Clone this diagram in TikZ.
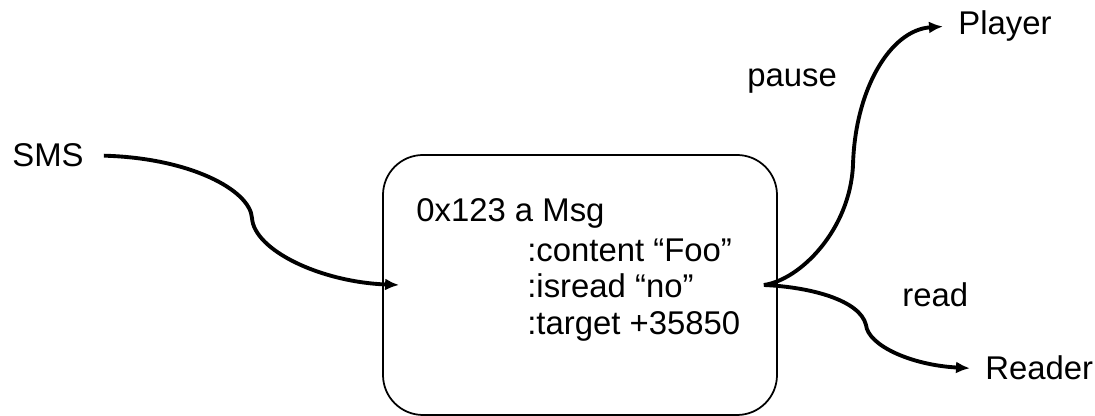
\documentclass[tikz,border=0pt]{standalone}
\usepackage{fontspec}
\setmainfont{Liberation Sans}
\usetikzlibrary{arrows.meta}
\tikzset{
  lbl/.style={inner sep=0, anchor=base west, font=\fontsize{18.7}{21}\selectfont},
  flow/.style={line width=2.2pt, -{Latex[length=0.28cm, width=0.24cm]}}
}
\begin{document}
\begin{tikzpicture}
  \useasboundingbox (0,0) rectangle (21.9,8.32);
  \node[draw, line width=1pt, rounded corners=0.8cm, minimum width=7.88cm, minimum height=5.2cm] (msg) at (11.6,2.62) {};
  \node[lbl] (sms) at (0.24,4.98) {SMS};
  \node[lbl] (addr) at (8.32,3.88) {0x123 a Msg};
  \node[lbl] (content) at (10.54,3.08) {:content “Foo”};
  \node[lbl] (isread) at (10.54,2.36) {:isread “no”};
  \node[lbl] (target) at (10.54,1.62) {:target +35850};
  \node[lbl] (player) at (19.16,7.62) {Player};
  \node[lbl] (reader) at (19.70,0.72) {Reader};
  \node[lbl] (pause) at (14.94,6.58) {pause};
  \node[lbl] (read) at (18.04,2.18) {read};
  \coordinate (smsbend) at (5.04,3.96);
  \coordinate (pausebend) at (17.06,5.02);
  \coordinate (readbend) at (17.32,1.82);
  \draw[flow] ([xshift=0.4cm]sms.east) .. controls (3.8,5.16) and (5.0,4.52) .. (smsbend)
    .. controls (5.08,3.32) and (6.4,2.68) .. ([xshift=0.34cm]msg.west);
  \draw[flow] ([xshift=-0.28cm]msg.east) .. controls (16.0,2.72) and (17.0,3.72) .. (pausebend)
    .. controls (17.1,6.52) and (17.8,7.72) .. ([xshift=-0.3cm]player.west);
  \draw[flow] ([xshift=-0.28cm]msg.east) .. controls (16.2,2.58) and (17.2,2.32) .. (readbend)
    .. controls (17.36,1.42) and (18.2,1.02) .. ([xshift=-0.3cm]reader.west);
\end{tikzpicture}
\end{document}
